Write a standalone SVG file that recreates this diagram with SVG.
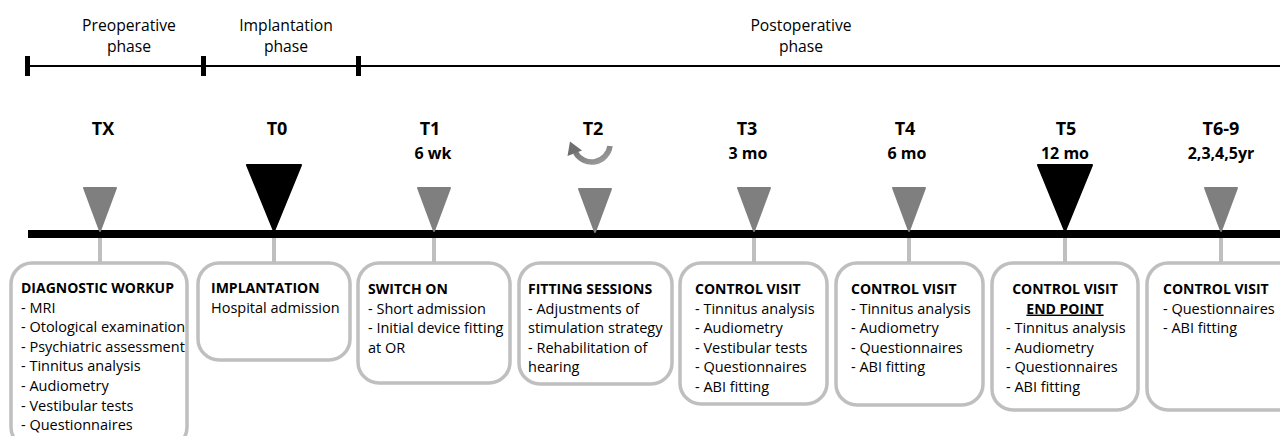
<svg xmlns="http://www.w3.org/2000/svg" width="1280" height="436" viewBox="0 0 1280 436">
<style>
text{font-family:"Open Sans","Liberation Sans",sans-serif;fill:#000}
.ph{font-size:15.7px;text-anchor:middle}
.tl{font-size:18px;font-weight:bold;text-anchor:middle}
.sub{font-size:16px;font-weight:bold;text-anchor:middle}
.bx{fill:#fff;stroke:#bfbfbf;stroke-width:3.5}
.hd{font-size:14px;font-weight:bold}
.it{font-size:14.5px}
.gt{fill:#7f7f7f;stroke:#7f7f7f;stroke-width:2;stroke-linejoin:round}
.bt{fill:#000;stroke:#000;stroke-width:2;stroke-linejoin:round}
.cn{stroke:#bfbfbf;stroke-width:4}
</style>
<defs>
<linearGradient id="ag" x1="0" y1="0" x2="1" y2="1">
<stop offset="0" stop-color="#6f6f6f"/>
<stop offset="1" stop-color="#a0a0a0"/>
</linearGradient>
</defs>
<rect width="1280" height="436" fill="#fff"/>

<g id="phases">
<line x1="28" y1="66" x2="1280" y2="66" stroke="#000" stroke-width="2"/>
<rect x="25" y="56" width="5" height="20" fill="#000"/>
<rect x="201" y="56" width="5" height="20" fill="#000"/>
<rect x="356" y="56" width="5" height="20" fill="#000"/>
<text class="ph" x="129" y="31">Preoperative</text>
<text class="ph" x="129" y="52">phase</text>
<text class="ph" x="286" y="31">Implantation</text>
<text class="ph" x="286" y="52">phase</text>
<text class="ph" x="801" y="31">Postoperative</text>
<text class="ph" x="801" y="52">phase</text>
</g>

<g id="connectors">
<line x1="28" y1="234" x2="1280" y2="234" stroke="#000" stroke-width="8"/>
<line class="cn" x1="100" y1="238" x2="100" y2="263"/>
<line class="cn" x1="274" y1="238" x2="274" y2="263"/>
<line class="cn" x1="434" y1="238" x2="434" y2="263"/>
<line class="cn" x1="754" y1="238" x2="754" y2="263"/>
<line class="cn" x1="909" y1="238" x2="909" y2="263"/>
<line class="cn" x1="1065" y1="238" x2="1065" y2="263"/>
<line class="cn" x1="1221" y1="238" x2="1221" y2="263"/>
</g>

<g id="TX">
<text class="tl" x="103" y="135">TX</text>
<polygon class="gt" points="84,188 116,188 100,231"/>
</g>
<g id="T0">
<text class="tl" x="277" y="135">T0</text>
<polygon class="bt" points="247,165 301,165 274,231"/>
</g>
<g id="T1">
<text class="tl" x="430" y="135">T1</text>
<text class="sub" x="433" y="159">6 wk</text>
<polygon class="gt" points="418,188 450,188 434,231"/>
</g>
<g id="T2">
<text class="tl" x="593" y="135">T2</text>
<path d="M610 146 A18.5 18.5 0 0 1 575.5 152.5" fill="none" stroke="url(#ag)" stroke-width="5.5"/>
<polygon points="570,141.5 582,150.5 567.5,156" fill="#6f6f6f"/>
<polygon class="gt" points="579,189 611,189 595,232"/>
</g>
<g id="T3">
<text class="tl" x="747" y="135">T3</text>
<text class="sub" x="748" y="159">3 mo</text>
<polygon class="gt" points="738,188 770,188 754,231"/>
</g>
<g id="T4">
<text class="tl" x="905" y="135">T4</text>
<text class="sub" x="907" y="159">6 mo</text>
<polygon class="gt" points="893,188 925,188 909,231"/>
</g>
<g id="T5">
<text class="tl" x="1066" y="135">T5</text>
<text class="sub" x="1065" y="159">12 mo</text>
<polygon class="bt" points="1038,165 1092,165 1065,231"/>
</g>
<g id="T6-9">
<text class="tl" x="1221" y="135">T6-9</text>
<text class="sub" x="1221" y="159">2,3,4,5yr</text>
<polygon class="gt" points="1205,188 1237,188 1221,231"/>
</g>

<g id="box-diagnostic">
<rect class="bx" x="11" y="263" width="176" height="185" rx="21"/>
<text class="hd" x="21" y="293">DIAGNOSTIC WORKUP</text>
<text class="it" x="21" y="312.6">- MRI</text>
<text class="it" x="21" y="332.2">- Otological examination</text>
<text class="it" x="21" y="351.8">- Psychiatric assessment</text>
<text class="it" x="21" y="371.4">- Tinnitus analysis</text>
<text class="it" x="21" y="391">- Audiometry</text>
<text class="it" x="21" y="410.6">- Vestibular tests</text>
<text class="it" x="21" y="430.2">- Questionnaires</text>
</g>
<g id="box-implantation">
<rect class="bx" x="198" y="263" width="152" height="97" rx="21"/>
<text class="hd" x="211" y="293">IMPLANTATION</text>
<text class="it" x="211" y="312.6">Hospital admission</text>
</g>
<g id="box-switchon">
<rect class="bx" x="358" y="263" width="152" height="120" rx="21"/>
<text class="hd" x="368" y="294">SWITCH ON</text>
<text class="it" x="368" y="313.6">- Short admission</text>
<text class="it" x="368" y="333.2">- Initial device fitting</text>
<text class="it" x="368" y="352.8">at OR</text>
</g>
<g id="box-fitting">
<rect class="bx" x="519" y="263" width="153" height="121" rx="21"/>
<text class="hd" x="528" y="294">FITTING SESSIONS</text>
<text class="it" x="528" y="313.6">- Adjustments of</text>
<text class="it" x="528" y="333.2">stimulation strategy</text>
<text class="it" x="528" y="352.8">- Rehabilitation of</text>
<text class="it" x="528" y="372.4">hearing</text>
</g>
<g id="box-t3">
<rect class="bx" x="680" y="263" width="147" height="141" rx="21"/>
<text class="hd" x="695" y="294">CONTROL VISIT</text>
<text class="it" x="695" y="313.6">- Tinnitus analysis</text>
<text class="it" x="695" y="333.2">- Audiometry</text>
<text class="it" x="695" y="352.8">- Vestibular tests</text>
<text class="it" x="695" y="372.4">- Questionnaires</text>
<text class="it" x="695" y="392">- ABI fitting</text>
</g>
<g id="box-t4">
<rect class="bx" x="836" y="263" width="147" height="142" rx="21"/>
<text class="hd" x="851" y="294">CONTROL VISIT</text>
<text class="it" x="851" y="313.6">- Tinnitus analysis</text>
<text class="it" x="851" y="333.2">- Audiometry</text>
<text class="it" x="851" y="352.8">- Questionnaires</text>
<text class="it" x="851" y="372.4">- ABI fitting</text>
</g>
<g id="box-t5">
<rect class="bx" x="992" y="263" width="146" height="147" rx="21"/>
<text class="hd" x="1065" y="294" text-anchor="middle">CONTROL VISIT</text>
<text class="hd" x="1065" y="313.6" text-anchor="middle" text-decoration="underline">END POINT</text>
<text class="it" x="1006" y="333.2">- Tinnitus analysis</text>
<text class="it" x="1006" y="352.8">- Audiometry</text>
<text class="it" x="1006" y="372.4">- Questionnaires</text>
<text class="it" x="1006" y="392">- ABI fitting</text>
</g>
<g id="box-t6-9">
<rect class="bx" x="1147" y="263" width="160" height="147" rx="21"/>
<text class="hd" x="1163" y="294">CONTROL VISIT</text>
<text class="it" x="1163" y="313.6">- Questionnaires</text>
<text class="it" x="1163" y="333.2">- ABI fitting</text>
</g>
</svg>
